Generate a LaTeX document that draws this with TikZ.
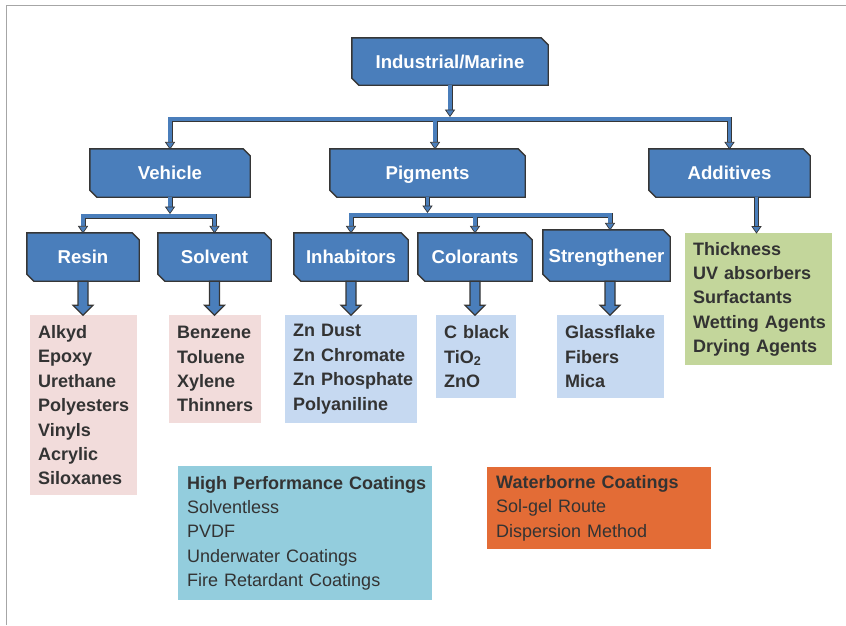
\documentclass[tikz,border=0pt]{standalone}
\usepackage{fontspec}
\setmainfont{Liberation Sans}
\pgfdeclarelayer{background}
\pgfsetlayers{background,main}
\definecolor{blu}{HTML}{4A7EBB}
\definecolor{dk}{HTML}{363636}
\definecolor{txt}{HTML}{333333}
\definecolor{pinkc}{HTML}{F2DCDB}
\definecolor{lbluc}{HTML}{C6D9F1}
\definecolor{greenc}{HTML}{C3D69B}
\definecolor{hpc}{HTML}{93CDDD}
\definecolor{orc}{HTML}{E36C36}
\newcommand\ahd[1]{\filldraw[ahead] #1 -- ++(-4.5pt,6.5pt) -- ++(9pt,0pt) -- cycle;}
\newcommand\barr[1]{\filldraw[barrow] ([xshift=-5pt]#1.south) -- ++(0pt,-24pt) -- ++(-5pt,0pt) -- ++(10pt,-10pt) -- ++(10pt,10pt) -- ++(-5pt,0pt) -- ++(0pt,24pt) -- cycle;}
\newcommand\lnx[1]{\mbox{#1}}
\begin{document}
\begin{tikzpicture}[x=1pt,y=-1pt,
 lvl/.style={inner sep=0pt, text=white, text height=13.4pt, text depth=0pt, font=\fontsize{18.6}{20}\selectfont\bfseries},
 bx/.style={fill=blu, draw=dk, line width=1.4pt, line join=miter},
 lst/.style={anchor=north west, inner xsep=8pt, inner ysep=0pt, align=left, text=txt, font=\fontsize{18}{24.4}\selectfont\bfseries},
 conn/.style={draw=dk, line width=0.8pt, double=blu, double distance=3.4pt, line join=miter},
 ahead/.style={fill=blu, draw=dk, line width=0.7pt, line join=miter},
 barrow/.style={fill=blu, draw=dk, line width=1.2pt, line join=miter}]
\useasboundingbox (0,0) rectangle (846,625);
\draw[gray!70, line width=1pt] (6,625) -- (6,5) -- (846,5);

% level boxes
\node[lvl, minimum width=196pt, minimum height=47pt] (ind) at (450,61.5) {Industrial/Marine};
\node[lvl, minimum width=160pt, minimum height=48pt] (veh) at (170,173) {Vehicle};
\node[lvl, minimum width=195pt, minimum height=48pt] (pig) at (427.5,173) {Pigments};
\node[lvl, minimum width=161pt, minimum height=48pt] (add) at (729.5,173) {Additives};
\node[lvl, minimum width=112pt, minimum height=48pt] (res) at (83,257) {Resin};
\node[lvl, minimum width=113pt, minimum height=48pt] (sol) at (214.5,257) {Solvent};
\node[lvl, minimum width=114pt, minimum height=48pt] (inh) at (351,257) {Inhabitors};
\node[lvl, minimum width=114pt, minimum height=48pt] (col) at (475,257) {Colorants};
\node[lvl, minimum width=127pt, minimum height=48pt] (str) at (606.5,255.5) {Strengthener};
\begin{pgfonlayer}{background}
\foreach \n in {ind,veh,pig,add,res,sol,inh,col}
  \filldraw[bx] (\n.north west) -- ([xshift=-7pt]\n.north east) -- ([yshift=-7pt]\n.north east) -- (\n.south east) -- ([xshift=7pt]\n.south west) -- ([yshift=7pt]\n.south west) -- cycle;
\filldraw[bx] ([yshift=1.5pt]str.north west) -- ([xshift=-7pt,yshift=1.5pt]str.north east) -- ([yshift=-5.5pt]str.north east) -- ([yshift=-1.5pt]str.south east) -- ([xshift=7pt,yshift=-1.5pt]str.south west) -- ([yshift=5.5pt]str.south west) -- cycle;
\end{pgfonlayer}

% lists
\node[lst, fill=pinkc, text width=91pt, minimum height=180pt] (resl) at (30,315) {\lnx{Alkyd}\\\lnx{Epoxy}\\\lnx{Urethane}\\\lnx{Polyesters}\\\lnx{Vinyls}\\\lnx{Acrylic}\\\lnx{Siloxanes}};
\node[lst, fill=pinkc, text width=76pt, minimum height=108pt] (soll) at (169,315) {\lnx{Benzene}\\\lnx{Toluene}\\\lnx{Xylene}\\\lnx{Thinners}};
\node[lst, fill=lbluc, text width=116pt, minimum height=108pt] (inhl) at (285,315) {\lnx{Zn Dust}\\\lnx{Zn Chromate}\\\lnx{Zn Phosphate}\\\lnx{Polyaniline}};
\node[lst, fill=lbluc, text width=64pt, minimum height=83pt] (coll) at (436,315) {\lnx{C black}\\\lnx{TiO\textsubscript{2}}\\\lnx{ZnO}};
\node[lst, fill=lbluc, text width=91pt, minimum height=83pt] (strl) at (557,315) {\lnx{Glassflake}\\\lnx{Fibers}\\\lnx{Mica}};
\node[lst, fill=greenc, text width=131pt, minimum height=132pt] (addl) at (685,233) {\lnx{Thickness}\\\lnx{UV absorbers}\\\lnx{Surfactants}\\\lnx{Wetting Agents}\\\lnx{Drying Agents}};
\node[lst, fill=hpc, inner xsep=9pt, text width=236pt, minimum height=134pt, font=\fontsize{18}{24.4}\selectfont] (hp) at (178,466) {\lnx{\textbf{High Performance Coatings}}\\\lnx{Solventless}\\\lnx{PVDF}\\\lnx{Underwater Coatings}\\\lnx{Fire Retardant Coatings}};
\node[lst, fill=orc, inner xsep=9pt, text width=206pt, minimum height=82pt, font=\fontsize{18}{24.4}\selectfont] (wb) at (487,467) {\lnx{\textbf{Waterborne Coatings}}\\\lnx{Sol-gel Route}\\\lnx{Dispersion Method}};

% top tree
\coordinate (b1) at (0,119);
\path (ind.south |- b1) coordinate (b1c) (veh.north |- b1) coordinate (b1l) (add.north |- b1) coordinate (b1r)
      ([xshift=7.5pt]pig.north) coordinate (pigin) (pigin |- b1) coordinate (b1m);
\draw[conn] ([yshift=6.5pt]veh.north) -- (b1l) -- (b1r) -- ([yshift=6.5pt]add.north)
            (b1m) -- ([yshift=6.5pt]pigin)
            (ind.south) -- ([yshift=9.1pt]b1c);
\ahd{(veh.north)} \ahd{(pigin)} \ahd{(add.north)} \ahd{([yshift=2.6pt]b1c)}

% vehicle tree
\coordinate (b2) at (0,216);
\path (veh.south |- b2) coordinate (b2c) (res.north |- b2) coordinate (b2l) (sol.north |- b2) coordinate (b2r);
\draw[conn] ([yshift=6.5pt]res.north) -- (b2l) -- (b2r) -- ([yshift=6.5pt]sol.north)
            (veh.south) -- ([yshift=9.1pt]b2c);
\ahd{(res.north)} \ahd{(sol.north)} \ahd{([yshift=2.6pt]b2c)}

% pigments tree
\coordinate (b3) at (0,215);
\path (pig.south |- b3) coordinate (b3c) (inh.north |- b3) coordinate (b3l)
      ([xshift=3.5pt,yshift=1.5pt]str.north) coordinate (strin) (strin |- b3) coordinate (b3r) (col.north |- b3) coordinate (b3m);
\draw[conn] ([yshift=6.5pt]inh.north) -- (b3l) -- (b3r) -- ([yshift=6.5pt]strin)
            (b3m) -- ([yshift=6.5pt]col.north)
            (pig.south) -- ([yshift=9.1pt]b3c);
\ahd{(inh.north)} \ahd{(col.north)} \ahd{(strin)} \ahd{([yshift=2.6pt]b3c)}

% additives
\path ([xshift=27pt]add.south) coordinate (addout) (addout |- addl.north) coordinate (addin);
\draw[conn] (addout) -- ([yshift=6.5pt]addin);
\ahd{(addin)}

% block arrows
\barr{res} \barr{sol} \barr{inh} \barr{col}
\filldraw[barrow] ([xshift=-1.5pt,yshift=-1.5pt]str.south) -- ++(0pt,-24pt) -- ++(-5pt,0pt) -- ++(10pt,-10pt) -- ++(10pt,10pt) -- ++(-5pt,0pt) -- ++(0pt,24pt) -- cycle;
\end{tikzpicture}
\end{document}
